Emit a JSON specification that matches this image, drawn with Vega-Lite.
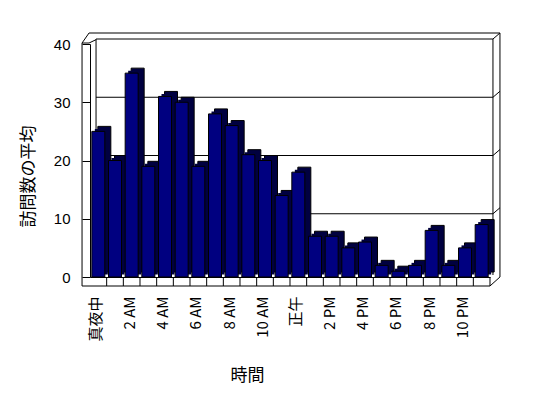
{
  "$schema": "https://vega.github.io/schema/vega-lite/v6.json",
  "width": 400,
  "height": 233,
  "autosize": {"type": "none"},
  "padding": {"left": 90, "top": 44, "right": 58, "bottom": 121},
  "background": "white",
  "config": {
    "view": {"stroke": null},
    "axis": {
      "labelFont": "Liberation Sans",
      "titleFont": "Noto Sans CJK JP",
      "labelColor": "black",
      "titleColor": "black",
      "domainColor": "black",
      "tickColor": "black"
    }
  },
  "datasets": {
    "visits": [
      {"hour": 0, "visits": 25}, {"hour": 1, "visits": 20}, {"hour": 2, "visits": 35},
      {"hour": 3, "visits": 19}, {"hour": 4, "visits": 31}, {"hour": 5, "visits": 30},
      {"hour": 6, "visits": 19}, {"hour": 7, "visits": 28}, {"hour": 8, "visits": 26},
      {"hour": 9, "visits": 21}, {"hour": 10, "visits": 20}, {"hour": 11, "visits": 14},
      {"hour": 12, "visits": 18}, {"hour": 13, "visits": 7}, {"hour": 14, "visits": 7},
      {"hour": 15, "visits": 5}, {"hour": 16, "visits": 6}, {"hour": 17, "visits": 2},
      {"hour": 18, "visits": 1}, {"hour": 19, "visits": 2}, {"hour": 20, "visits": 8},
      {"hour": 21, "visits": 2}, {"hour": 22, "visits": 5}, {"hour": 23, "visits": 9}
    ],
    "grid": [{"g": 10}, {"g": 20}, {"g": 30}, {"g": 40}]
  },
  "data": {"name": "visits"},
  "layer": [
    {
      "data": {"name": "grid"},
      "mark": {"type": "rule", "color": "black", "strokeWidth": 1, "xOffset": -2.3, "x2Offset": 11.3, "yOffset": -5},
      "encoding": {
        "x": {"datum": 0, "type": "ordinal"},
        "x2": {"datum": 23},
        "y": {"field": "g", "type": "quantitative"}
      }
    },
    {
      "data": {"name": "grid"},
      "mark": {"type": "rule", "color": "black", "strokeWidth": 1, "xOffset": 11.3, "x2Offset": 18.3, "yOffset": -5, "y2Offset": -11},
      "encoding": {
        "x": {"datum": 23, "type": "ordinal"},
        "x2": {"datum": 23},
        "y": {"field": "g", "type": "quantitative"},
        "y2": {"field": "g"}
      }
    },
    {
      "data": {"values": [{}]},
      "mark": {"type": "rule", "color": "black", "strokeWidth": 1, "xOffset": -2.3, "yOffset": -5, "y2Offset": -5},
      "encoding": {
        "x": {"datum": 0, "type": "ordinal"},
        "y": {"datum": 40, "type": "quantitative"},
        "y2": {"datum": 0}
      }
    },
    {
      "data": {"values": [{}]},
      "mark": {"type": "rule", "color": "black", "strokeWidth": 1, "xOffset": 11.3, "yOffset": -5, "y2Offset": -2},
      "encoding": {
        "x": {"datum": 23, "type": "ordinal"},
        "y": {"datum": 40, "type": "quantitative"},
        "y2": {"datum": 0}
      }
    },
    {
      "data": {"values": [{}]},
      "mark": {"type": "rule", "color": "black", "strokeWidth": 1, "xOffset": 18.3, "yOffset": -11, "y2Offset": 0},
      "encoding": {
        "x": {"datum": 23, "type": "ordinal"},
        "y": {"datum": 40, "type": "quantitative"},
        "y2": {"datum": 0}
      }
    },
    {
      "data": {"values": [{}]},
      "mark": {"type": "rule", "color": "black", "strokeWidth": 1, "xOffset": -9.3, "x2Offset": 18.3, "yOffset": -11},
      "encoding": {
        "x": {"datum": 0, "type": "ordinal"},
        "x2": {"datum": 23},
        "y": {"datum": 40, "type": "quantitative"}
      }
    },
    {
      "data": {"values": [{}]},
      "mark": {"type": "rule", "color": "black", "strokeWidth": 1, "xOffset": -16.3, "x2Offset": -9.3, "yOffset": -1, "y2Offset": -11},
      "encoding": {
        "x": {"datum": 0, "type": "ordinal"},
        "x2": {"datum": 0},
        "y": {"datum": 40, "type": "quantitative"},
        "y2": {"datum": 40}
      }
    },
    {
      "data": {"values": [{}]},
      "mark": {"type": "rule", "color": "black", "strokeWidth": 1, "xOffset": -9.3, "x2Offset": -2.3, "yOffset": -1, "y2Offset": -4.3},
      "encoding": {
        "x": {"datum": 0, "type": "ordinal"},
        "x2": {"datum": 0},
        "y": {"datum": 40, "type": "quantitative"},
        "y2": {"datum": 40}
      }
    },
    {
      "data": {"values": [{}]},
      "mark": {"type": "rule", "color": "black", "strokeWidth": 1, "xOffset": -16.3, "x2Offset": -9.3, "yOffset": -1},
      "encoding": {
        "x": {"datum": 0, "type": "ordinal"},
        "x2": {"datum": 0},
        "y": {"datum": 40, "type": "quantitative"}
      }
    },
    {
      "data": {"values": [{}]},
      "mark": {"type": "rule", "color": "black", "strokeWidth": 1, "xOffset": -16.3, "yOffset": -1, "y2Offset": 9},
      "encoding": {
        "x": {"datum": 0, "type": "ordinal"},
        "y": {"datum": 40, "type": "quantitative"},
        "y2": {"datum": 0}
      }
    },
    {
      "data": {"values": [{}]},
      "mark": {"type": "rule", "color": "black", "strokeWidth": 1, "xOffset": -16.3, "x2Offset": 8.3, "yOffset": 9},
      "encoding": {
        "x": {"datum": 0, "type": "ordinal"},
        "x2": {"datum": 23},
        "y": {"datum": 0, "type": "quantitative"}
      }
    },
    {
      "data": {"values": [{}]},
      "mark": {"type": "rule", "color": "black", "strokeWidth": 1, "xOffset": 8.3, "x2Offset": 18.3, "yOffset": 9, "y2Offset": 0},
      "encoding": {
        "x": {"datum": 23, "type": "ordinal"},
        "x2": {"datum": 23},
        "y": {"datum": 0, "type": "quantitative"},
        "y2": {"datum": 0}
      }
    },
    {
      "mark": {"type": "rule", "color": "black", "strokeWidth": 1, "xOffset": 8.33, "y2Offset": 9},
      "encoding": {
        "x": {"field": "hour", "type": "ordinal"},
        "y": {"datum": 0, "type": "quantitative"},
        "y2": {"datum": 0}
      }
    },
    {
      "mark": {"type": "bar", "fill": "#000040", "stroke": "black", "strokeWidth": 1, "xOffset": 6, "yOffset": -5, "y2Offset": -5},
      "encoding": {
        "x": {"field": "hour", "type": "ordinal"},
        "y": {"field": "visits", "type": "quantitative"}
      }
    },
    {
      "mark": {"type": "bar", "fill": "#000040", "xOffset": 3, "yOffset": -2.5, "y2Offset": -2.5},
      "encoding": {
        "x": {"field": "hour", "type": "ordinal"},
        "y": {"field": "visits", "type": "quantitative"}
      }
    },
    {
      "mark": {"type": "bar", "fill": "#000080", "stroke": "black", "strokeWidth": 1},
      "encoding": {
        "x": {
          "field": "hour",
          "type": "ordinal",
          "scale": {"paddingInner": 0.22, "paddingOuter": 0.11},
          "axis": {
            "title": "時間",
            "labelAngle": 270,
            "labelExpr": "datum.value % 2 == 1 ? '' : datum.value == 0 ? '真夜中' : datum.value == 12 ? '正午' : (datum.value % 12) + (datum.value < 12 ? ' AM' : ' PM')",
            "labelFont": "Noto Sans CJK JP",
            "labelFontSize": 15,
            "labelPadding": 19,
            "labelOffset": -2,
            "labelOverlap": false,
            "ticks": false,
            "grid": false,
            "titleFontSize": 17,
            "titleFontWeight": "normal",
            "titleX": 157,
            "titleY": 98.5,
            "titleAlign": "center",
            "titleBaseline": "middle"
          }
        },
        "y": {
          "field": "visits",
          "type": "quantitative",
          "scale": {"domain": [0, 40], "nice": false},
          "axis": {
            "title": "訪問数の平均",
            "values": [0, 10, 20, 30, 40],
            "tickSize": 8,
            "labelPadding": 12,
            "labelFontSize": 15,
            "grid": false,
            "titleFontSize": 17,
            "titleFontWeight": "normal",
            "titleAngle": 270,
            "titleX": -61.5,
            "titleY": 132,
            "titleAlign": "center",
            "titleBaseline": "middle"
          }
        }
      }
    }
  ]
}
